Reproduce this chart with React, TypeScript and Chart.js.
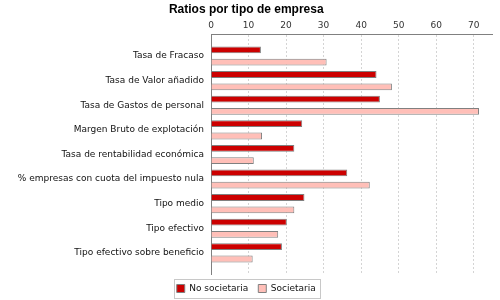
import React, { useEffect, useRef } from "react";
import { Chart, registerables } from "chart.js";

Chart.register(...registerables);

const title = "Ratios por tipo de empresa";
const categories = [
  "Tasa de Fracaso",
  "Tasa de Valor añadido",
  "Tasa de Gastos de personal",
  "Margen Bruto de explotación",
  "Tasa de rentabilidad económica",
  "% empresas con cuota del impuesto nula",
  "Tipo medio",
  "Tipo efectivo",
  "Tipo efectivo sobre beneficio",
];
const seriesNames = ["No societaria", "Societaria"];
const noSocietaria = [13.3, 44.1, 45.0, 24.3, 22.2, 36.3, 24.9, 20.2, 18.9];
const societaria = [30.8, 48.2, 71.4, 13.6, 11.4, 42.3, 22.2, 17.9, 11.1];
const xTicks = [0, 10, 20, 30, 40, 50, 60, 70];
const xMax = 75;

const FONT = "'DejaVu Sans', sans-serif";

const legendBorder = {
  id: "legendBorder",
  afterDraw(chart: any) {
    const lg = chart.legend;
    if (!lg || !lg.legendHitBoxes || !lg.legendHitBoxes.length) return;
    const boxes = lg.legendHitBoxes;
    let minX = Infinity, maxX = -Infinity, cy = 0;
    boxes.forEach((b: any) => {
      minX = Math.min(minX, b.left);
      maxX = Math.max(maxX, b.left + b.width);
      cy = b.top + b.height / 2;
    });
    const ctx = chart.ctx;
    ctx.save();
    ctx.strokeStyle = "#c8c8c8";
    ctx.lineWidth = 1;
    const l = Math.round(minX - 3) + 0.5;
    const r = Math.round(maxX + 4) + 0.5;
    const t = Math.round(cy - 9.5) + 0.5;
    const bt = Math.round(cy + 9.5) + 0.5;
    ctx.strokeRect(l, t, r - l, bt - t);
    ctx.restore();
  },
};

export default function App() {
  const ref = useRef<HTMLCanvasElement>(null);
  useEffect(() => {
    if (!ref.current) return;
    const chart = new Chart(ref.current, {
      type: "bar",
      data: {
        datasets: [
          {
            label: seriesNames[0],
            data: noSocietaria.map((v, i) => ({ x: v, y: i })),
            backgroundColor: "#cc0000",
            borderColor: "#808080",
            borderWidth: 1,
          },
          {
            label: seriesNames[1],
            data: societaria.map((v, i) => ({ x: v, y: i })),
            backgroundColor: "#ffbfb8",
            borderColor: "#808080",
            borderWidth: 1,
          },
        ],
      },
      options: {
        indexAxis: "y",
        animation: false,
        responsive: true,
        maintainAspectRatio: false,
        barPercentage: 0.55,
        categoryPercentage: 1,
        layout: { padding: { left: 0, right: 7.5, top: 0, bottom: -3 } },
        scales: {
          x: {
            type: "linear",
            position: "top",
            min: 0,
            max: xMax,
            bounds: "data",
            afterBuildTicks: (s: any) => {
              s.ticks = xTicks.map((v) => ({ value: v }));
            },
            afterFit: (s: any) => {
              s.height = 16;
            },
            grid: {
              color: "#d4d4d4",
              lineWidth: 1,
              drawTicks: false,
            },
            border: { color: "#808080", width: 1, dash: [2, 2] },
            ticks: {
              padding: 3,
              color: "#333333",
              font: { family: FONT, size: 9 },
            },
          },
          y: {
            type: "linear",
            reverse: true,
            offset: false,
            min: -0.88,
            max: 8.86,
            bounds: "data",
            afterBuildTicks: (s: any) => {
              s.ticks = categories.map((_, i) => ({ value: i }));
            },
            afterFit: (s: any) => {
              s.width = 211;
            },
            grid: { display: false, drawTicks: false, offset: false },
            border: { color: "#808080", width: 1 },
            ticks: {
              autoSkip: false,
              padding: 7,
              color: "#111111",
              font: { family: FONT, size: 9 },
              callback: (v: any) => categories[v as number] ?? "",
            },
          },
        },
        plugins: {
          title: {
            display: true,
            text: title,
            color: "#000000",
            font: { family: "'Liberation Sans', Arial, sans-serif", size: 12, weight: "bold" },
            padding: { top: 2, bottom: 2 },
          },
          legend: {
            display: true,
            position: "bottom",
            labels: {
              boxWidth: 8,
              boxHeight: 8,
              padding: 10,
              color: "#111111",
              font: { family: FONT, size: 9 },
            },
          },
          tooltip: { enabled: false },
        },
      },
      plugins: [legendBorder],
    });
    return () => chart.destroy();
  }, []);
  return (
    <div style={{ position: "fixed", left: 0, top: 0, width: 500, height: 300, background: "#fff" }}>
      <canvas ref={ref} />
    </div>
  );
}
